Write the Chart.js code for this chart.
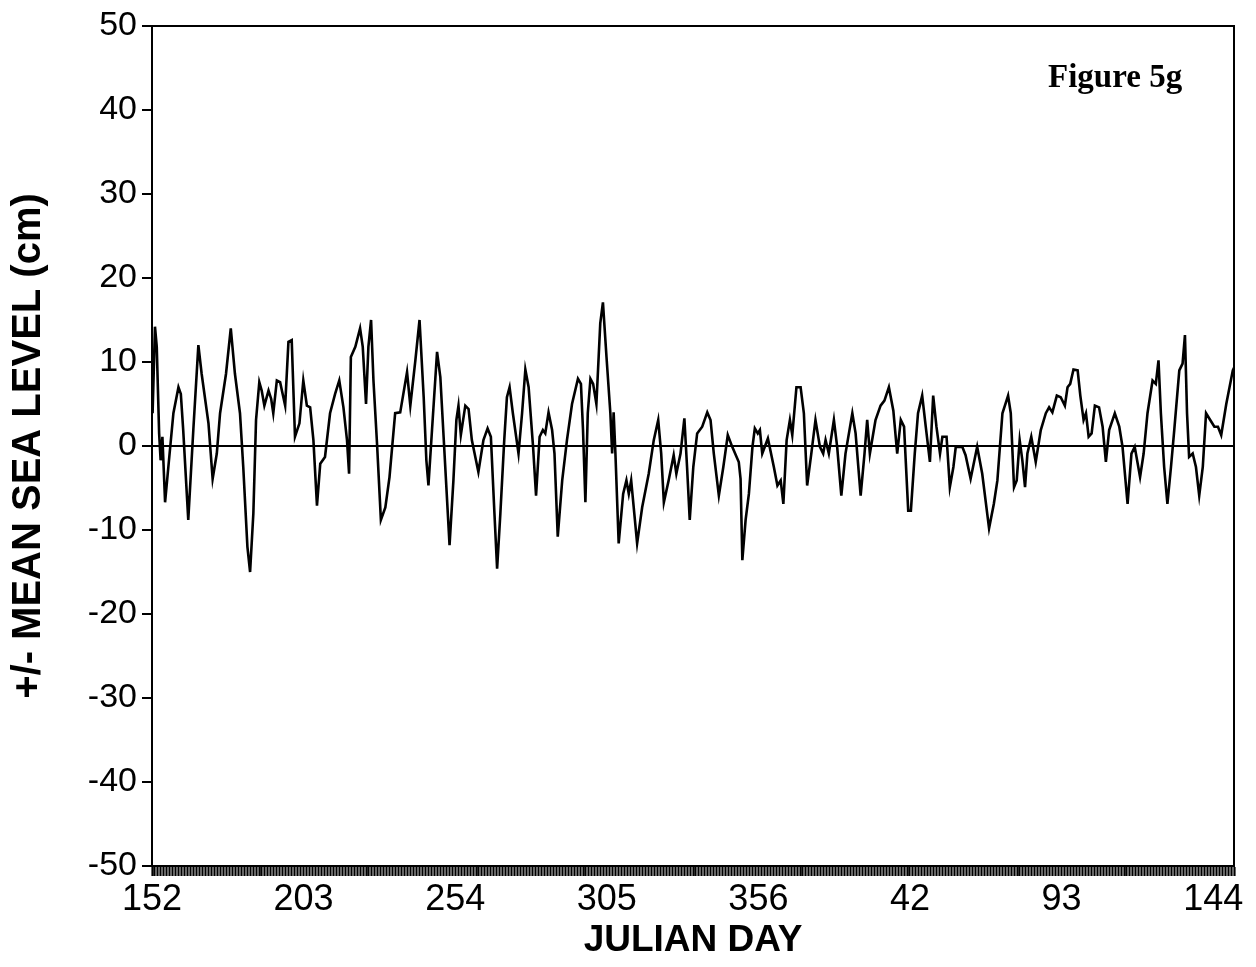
<!DOCTYPE html>
<html>
<head>
<meta charset="utf-8">
<script src="https://cdn.jsdelivr.net/npm/chart.js@4.4.1/dist/chart.umd.min.js"></script>
<style>
html,body{margin:0;padding:0;background:#fff;}
#c{display:block;}
</style>
</head>
<body>
<canvas id="c" width="1256" height="967"></canvas>
<script>
// Julian day (continuing past 365 into the next year) and sea level anomaly (cm)
const days = [
152.2,153.0,153.6,154.4,154.9,155.5,156.4,157.5,159.2,160.9,161.7,162.5,164.2,165.9,167.6,168.7,171.0,172.4,173.8,174.9,
176.9,178.5,179.9,181.6,182.7,184.1,185.0,186.1,187.0,188.1,188.9,189.8,191.2,192.1,192.8,194.0,195.1,196.8,197.9,199.0,
200.1,201.6,202.9,204.1,205.2,206.3,207.5,208.6,210.2,211.9,213.6,215.0,216.4,217.6,218.3,218.9,220.4,222.0,222.9,224.0,
224.8,225.7,226.5,227.7,229.0,230.5,231.9,233.8,235.5,237.8,238.9,240.6,242.0,243.4,244.3,245.0,246.2,247.9,249.0,250.1,
252.1,253.4,254.4,255.1,255.9,257.4,258.5,259.6,261.8,263.5,264.9,266.0,267.2,268.1,269.2,270.5,271.4,272.3,273.4,275.3,
276.5,277.6,278.7,280.2,281.2,282.4,283.5,284.3,285.4,286.6,287.4,288.5,290.0,291.6,293.3,295.3,296.3,297.0,297.8,298.6,
299.5,300.4,301.5,302.8,303.7,304.9,306.2,306.8,307.3,307.9,309.0,310.5,311.6,312.4,313.2,315.2,316.9,319.1,320.8,322.3,
323.3,324.2,325.8,327.5,328.4,329.8,331.1,332.0,332.9,334.1,335.4,337.1,338.8,339.9,341.0,342.7,344.2,345.7,347.2,349.4,
350.0,350.6,351.7,352.8,354.0,354.8,355.8,356.5,357.3,359.2,361.2,362.4,363.5,364.4,365.5,366.6,367.4,368.8,370.2,371.3,
372.4,373.8,375.2,376.7,377.8,378.6,379.7,381.4,382.5,383.9,385.3,387.6,388.7,390.4,391.7,392.6,393.5,395.4,397.1,398.4,
399.9,401.4,402.7,403.9,405.0,406.4,407.3,408.6,409.7,411.1,412.3,413.7,414.8,415.9,417.1,417.9,419.3,420.4,421.6,422.4,
424.6,425.7,427.4,429.6,431.3,433.6,435.2,436.4,438.1,440.0,440.9,442.0,442.9,443.9,444.8,445.7,446.5,447.8,449.3,451.0,
452.7,453.8,454.9,456.4,457.7,459.1,460.0,460.9,462.0,463.4,464.3,465.4,466.2,467.1,468.1,469.2,470.6,471.8,472.9,474.0,
475.9,477.4,478.5,480.2,481.5,482.6,484.4,485.6,486.9,488.6,489.7,490.6,491.4,492.5,493.6,494.8,495.9,497.6,498.7,499.5,
500.2,500.9,502.1,503.2,504.3,505.5,506.6,508.0,509.4,510.6,511.7,513.4,515.6,516.0
];
const seaLevel = [
3.9,14.2,11.8,1.5,-1.7,1.1,-6.7,-2.5,3.9,7.0,6.2,1.9,-8.8,1.9,12.0,8.6,2.7,-3.9,-0.9,3.9,
8.6,14.0,8.6,3.9,-2.5,-12.0,-15.0,-8.0,3.1,7.6,6.6,4.8,6.6,5.6,3.9,7.8,7.6,4.8,12.4,12.6,
1.1,2.7,7.8,4.8,4.6,0.7,-7.1,-2.1,-1.3,3.9,6.2,7.8,4.6,0.7,-3.3,10.6,11.8,14.0,11.8,5.0,
11.8,15.0,7.8,0.3,-8.8,-7.3,-3.7,3.9,4.0,8.8,4.8,10.2,15.0,5.8,-1.7,-4.7,1.9,11.2,8.2,1.1,
-11.8,-4.1,3.1,4.8,1.3,4.8,4.4,0.7,-3.1,0.7,2.1,1.1,-8.0,-14.6,-8.0,0.7,5.8,7.0,3.9,-0.9,
3.9,9.1,7.0,-0.1,-5.9,1.1,1.9,1.5,4.0,1.9,-0.9,-10.8,-4.1,0.7,5.0,8.0,7.4,1.9,-6.7,3.9,
8.0,7.4,5.0,14.6,17.1,10.6,3.9,-0.9,4.0,-0.9,-11.6,-5.7,-4.1,-5.7,-4.1,-11.6,-7.3,-3.3,0.7,3.1,
-0.9,-6.7,-4.1,-1.1,-3.3,-0.9,3.3,-2.5,-8.8,-2.5,1.5,2.3,4.0,3.1,-0.9,-5.9,-2.5,1.3,-0.1,-1.9,
-3.9,-13.6,-8.8,-5.7,-0.1,2.1,1.5,1.9,-0.9,0.9,-2.5,-4.7,-4.1,-6.9,0.7,3.1,1.3,7.0,7.0,3.9,
-4.7,-0.9,3.1,-0.1,-0.9,0.7,-0.9,3.1,-0.1,-5.9,-0.9,3.9,1.5,-5.9,-0.9,3.1,-0.9,3.1,4.8,5.4,
7.0,4.2,-0.9,3.1,2.3,-7.7,-7.7,-0.9,3.9,6.0,2.3,-1.9,6.0,2.3,-0.9,1.1,1.1,-4.9,-2.5,-0.1,
-0.1,-1.1,-3.9,-0.1,-3.3,-9.8,-6.9,-4.1,3.9,6.0,3.9,-4.9,-4.1,0.7,-1.7,-4.9,-0.9,1.1,-1.9,1.9,
3.9,4.6,4.0,6.0,5.8,4.8,7.0,7.4,9.1,9.0,6.0,3.1,3.9,1.1,1.5,4.8,4.6,2.3,-1.9,1.9,
3.9,2.3,-0.1,-6.9,-0.9,-0.1,-3.7,-0.9,3.9,7.8,7.4,10.2,3.9,-2.5,-6.9,-2.5,1.9,9.0,9.8,13.2,
3.9,-1.3,-0.9,-2.5,-5.9,-2.5,3.9,3.1,2.3,2.3,1.3,5.0,9.0,9.3
];
const tickDays = [152,203,254,305,356,407,458,509];
const tickLabels = ['152','203','254','305','356','42','93','144'];
const yTicks = [-50,-40,-30,-20,-10,0,10,20,30,40,50];
const xMin = 152, xMax = 516;

const points = days.map((d,i)=>({x:d, y:seaLevel[i]}));

const framePlugin = {
  id:'frame',
  afterDraw(chart){
    const {ctx, chartArea:a} = chart;
    ctx.save();
    ctx.strokeStyle = '#000';
    ctx.lineWidth = 2;
    ctx.beginPath();
    ctx.moveTo(a.left - 10, a.top);
    ctx.lineTo(a.right, a.top);
    ctx.lineTo(a.right, a.bottom);
    ctx.stroke();
    ctx.fillStyle = '#000';
    ctx.font = 'bold 33px "Liberation Serif"';
    ctx.textAlign = 'left';
    ctx.textBaseline = 'alphabetic';
    ctx.fillText('Figure 5g', 1048, 87);
    ctx.restore();
  }
};

new Chart(document.getElementById('c'), {
  type:'line',
  data:{datasets:[{
    data:points,
    borderColor:'#000',
    borderWidth:2.6,
    pointRadius:0,
    tension:0,
    fill:false
  }]},
  options:{
    responsive:false,
    animation:false,
    devicePixelRatio:1,
    layout:{padding:{top:26,right:22,left:0,bottom:0}},
    plugins:{legend:{display:false},tooltip:{enabled:false}},
    scales:{
      x:{
        type:'linear',
        min:xMin, max:xMax,
        afterBuildTicks(scale){
          const t=[];
          for(let d=xMin; d<=xMax; d++) t.push({value:d});
          scale.ticks=t;
        },
        afterFit(scale){ scale.height = 101; },
        ticks:{
          autoSkip:false, maxRotation:0, minRotation:0,
          padding:2,
          color:'#000',
          font:{family:'"Liberation Sans", Arial, sans-serif', size:36},
          callback(v){ const i=tickDays.indexOf(v); return i>=0 ? tickLabels[i] : ''; }
        },
        grid:{drawOnChartArea:false, drawTicks:true, tickLength:10, tickColor:'#000', tickWidth:2.2},
        border:{display:true, color:'#000', width:2},
        title:{display:true, text:'JULIAN DAY', color:'#000',
          font:{family:'"Liberation Sans", Arial, sans-serif', size:37, weight:'bold'},
          padding:{top:0,bottom:4}}
      },
      y:{
        type:'linear',
        min:-50, max:50,
        afterBuildTicks(scale){ scale.ticks = yTicks.map(v=>({value:v})); },
        afterFit(scale){ scale.width = 152; },
        ticks:{
          padding:5, color:'#000',
          font:{family:'"Liberation Sans", Arial, sans-serif', size:34}
        },
        grid:{
          color:(c)=> (c.tick && c.tick.value===0) ? '#000' : 'rgba(0,0,0,0)',
          lineWidth:2, tickLength:10, tickColor:'#000', tickWidth:2, drawTicks:true
        },
        border:{display:true, color:'#000', width:2},
        title:{display:true, text:'+/- MEAN SEA LEVEL (cm)', color:'#000',
          font:{family:'"Liberation Sans", Arial, sans-serif', size:40, weight:'bold'},
          padding:{top:5,bottom:0}}
      }
    }
  },
  plugins:[framePlugin]
});
</script>
</body>
</html>
